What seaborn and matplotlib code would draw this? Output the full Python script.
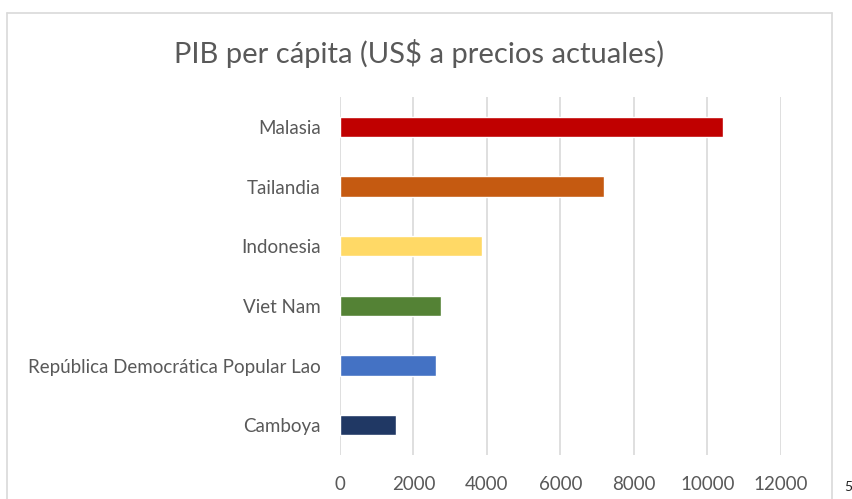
import matplotlib
matplotlib.use("Agg")
import matplotlib.pyplot as plt
import seaborn as sns
import pandas as pd
from matplotlib.lines import Line2D

countries = ["Malasia", "Tailandia", "Indonesia", "Viet Nam",
             "República Democrática Popular Lao", "Camboya"]
values = [10420, 7190, 3870, 2750, 2610, 1525]
colors = ["#C00000", "#C55A11", "#FFD966", "#548235", "#4472C4", "#203864"]
xticks = [0, 2000, 4000, 6000, 8000, 10000, 12000]
title = "PIB per cápita (US$ a precios actuales)"

df = pd.DataFrame({"country": countries, "value": values})

sns.set_theme(style="white")
plt.rcParams["font.family"] = ["Lato", "DejaVu Sans"]

W, H = 853, 499
fig = plt.figure(figsize=(W / 100, H / 100), dpi=100)
ax = fig.add_axes([340 / W, 1 - 455 / H, (781 - 340) / W, (455 - 97) / H])

sns.barplot(data=df, y="country", x="value", hue="country",
            palette=dict(zip(countries, colors)), orient="h", saturation=1,
            width=0.34, ax=ax, legend=False, order=countries)

ax.set_xlim(0, 12000)
ax.set_ylim(5.5, -0.5)
ax.set_xticks(xticks)
ax.set_xticklabels([str(t) for t in xticks])
ax.xaxis.grid(True, color="#D9D9D9", linewidth=1.2)
ax.set_axisbelow(True)
for s in ax.spines.values():
    s.set_visible(False)
ax.set_xlabel("")
ax.set_ylabel("")
ax.tick_params(axis="both", length=0, labelsize=13.5, labelcolor="#595959")
ax.tick_params(axis="x", pad=15)
ax.tick_params(axis="y", pad=14)

fig.text(419 / W, 1 - 53 / H, title, ha="center", va="center",
         fontsize=21, color="#595959")

# chart border
bc = "#D9D9D9"
fig.add_artist(Line2D([7 / W, 7 / W], [0, 1 - 13 / H], transform=fig.transFigure, color=bc, lw=1.2))
fig.add_artist(Line2D([7 / W, 832 / W], [1 - 13 / H, 1 - 13 / H], transform=fig.transFigure, color=bc, lw=1.2))
fig.add_artist(Line2D([832 / W, 832 / W], [0, 1 - 13 / H], transform=fig.transFigure, color=bc, lw=1.2))

fig.text(844 / W, 1 - 487 / H, "5", ha="left", va="center", fontsize=10, color="#222222")

fig.savefig("out.png", dpi=100)
